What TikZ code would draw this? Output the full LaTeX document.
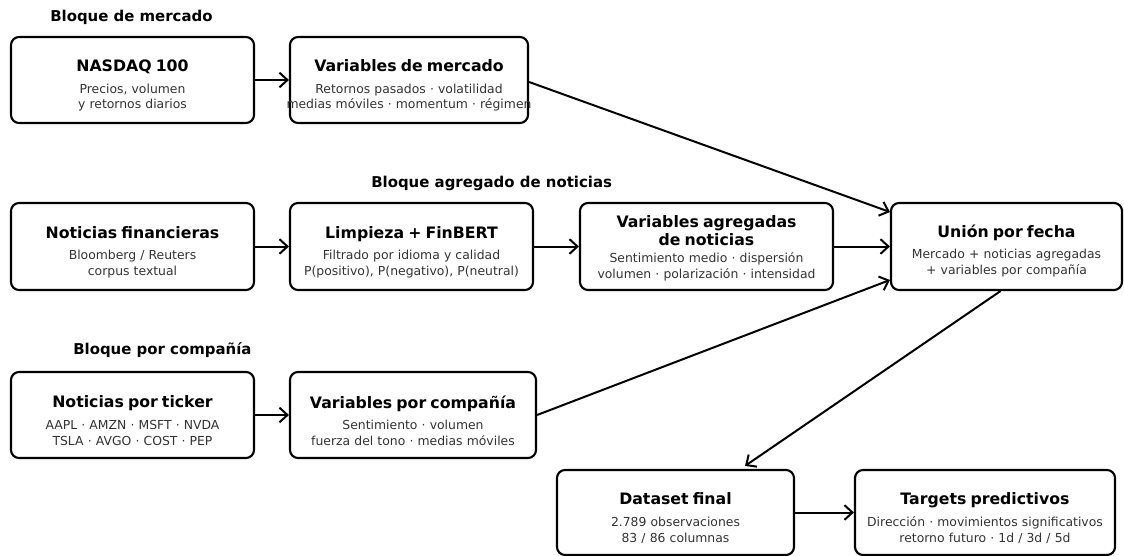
\documentclass[tikz,border=0pt]{standalone}
\usepackage{fontspec}
\setmainfont{DejaVu Sans}
\usetikzlibrary{arrows.meta,calc,fit}
\newcommand\ttl{\fontsize{11.8}{13.5}\selectfont\bfseries\color{black}}
\newcommand\sbt{\fontsize{9.3}{11.6}\selectfont}
\tikzset{
  box/.style={draw=black, line width=1.6pt, rounded corners=6pt, inner sep=0pt},
  txt/.style={align=center, text width=280pt, inner sep=0pt, font=\sbt, text=black!80, yshift=-4.2pt},
  hd/.style={anchor=west, inner sep=0pt, font=\fontsize{11.2}{13}\selectfont\bfseries},
  arr/.style={line width=1.5pt, -{Straight Barb[length=6pt,width=11pt]}}
}
\begin{document}
\begin{tikzpicture}[x=0.75pt,y=-0.75pt]
\useasboundingbox (0,0) rectangle (1124,556);
% headings
\node[hd] (h1) at (50,17) {Bloque de mercado};
\node[hd] (h2) at (371,183) {Bloque agregado de noticias};
\node[hd] (h3) at (73,350) {Bloque por compañía};
% boxes
\node[box, fit={(11,37) (254,123)}] (nasdaq) {};
\node[box, fit={(290,37) (528,123)}] (varmer) {};
\node[box, fit={(11,203) (254,290)}] (notfin) {};
\node[box, fit={(290,203) (533,290)}] (limp) {};
\node[box, fit={(580,203) (833,290)}] (varagg) {};
\node[box, fit={(891,203) (1122,290)}] (union) {};
\node[box, fit={(11,372) (254,458)}] (notick) {};
\node[box, fit={(290,372) (536,458)}] (varcomp) {};
\node[box, fit={(557,470) (794,555)}] (dataset) {};
\node[box, fit={(855,470) (1115,555)}] (targets) {};
% texts
\node[txt] (tnasdaq) at (nasdaq) {{\ttl NASDAQ 100}\\[4.7pt]Precios, volumen\\y retornos diarios};
\node[txt] (tvarmer) at (varmer) {{\ttl Variables de mercado}\\[4.7pt]Retornos pasados · volatilidad\\medias móviles · momentum · régimen};
\node[txt] (tnotfin) at (notfin) {{\ttl Noticias financieras}\\[4.7pt]Bloomberg / Reuters\\corpus textual};
\node[txt] (tlimp) at (limp) {{\ttl Limpieza + FinBERT}\\[4.7pt]Filtrado por idioma y calidad\\P(positivo), P(negativo), P(neutral)};
\node[txt, yshift=3pt] (tvaragg) at (varagg) {{\ttl Variables agregadas\\[1.9pt]de noticias}\\[1.7pt]Sentimiento medio · dispersión\\volumen · polarización · intensidad};
\node[txt, yshift=1pt] (tunion) at (union) {{\ttl Unión por fecha}\\[4.7pt]Mercado + noticias agregadas\\+ variables por compañía};
\node[txt] (tnotick) at (notick) {{\ttl Noticias por ticker}\\[4.7pt]AAPL · AMZN · MSFT · NVDA\\TSLA · AVGO · COST · PEP};
\node[txt] (tvarcomp) at (varcomp) {{\ttl Variables por compañía}\\[4.7pt]Sentimiento · volumen\\fuerza del tono · medias móviles};
\node[txt] (tdataset) at (dataset) {{\ttl Dataset final}\\[4.7pt]2.789 observaciones\\83 / 86 columnas};
\node[txt] (ttargets) at (targets) {{\ttl Targets predictivos}\\[4.7pt]Dirección · movimientos significativos\\retorno futuro · 1d / 3d / 5d};
% connectors
\draw[arr] (nasdaq.east) -- (varmer.west);
\draw[arr] ($(varmer.east)+(0,2)$) -- ($(union.west)+(0,-34.5)$);
\draw[arr] (notfin.east) -- (limp.west);
\draw[arr] (limp.east) -- (varagg.west);
\draw[arr] (varagg.east) -- (union.west);
\draw[arr] (notick.east) -- (varcomp.west);
\draw[arr] (varcomp.east) -- ($(union.west)+(0,33.5)$);
\draw[arr] ($(union.south)+(-6,0)$) -- ($(dataset.north)+(69.5,-3)$);
\draw[arr] (dataset.east) -- (targets.west);
\end{tikzpicture}
\end{document}
